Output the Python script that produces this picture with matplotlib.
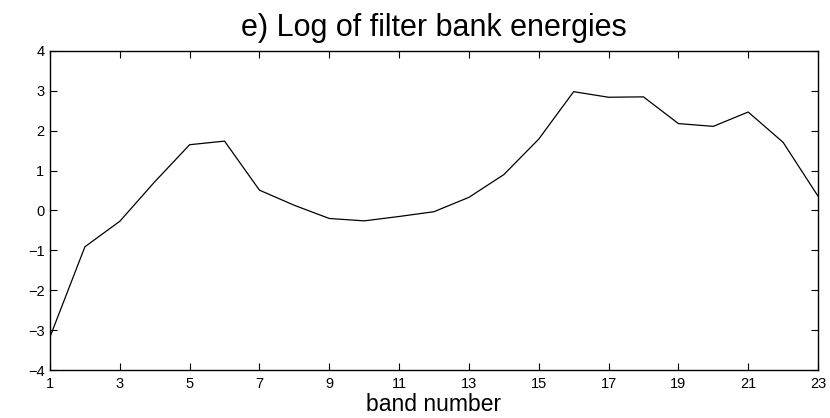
import numpy as np
import matplotlib
matplotlib.use("Agg")
import matplotlib.pyplot as plt

# log filter bank energies per band
bands = list(range(1, 24))
log_energy = [-3.17, -0.91, -0.27, 0.72, 1.65, 1.74, 0.51, 0.13, -0.20, -0.26,
              -0.15, -0.03, 0.33, 0.90, 1.79, 2.98, 2.84, 2.85, 2.18, 2.11,
              2.47, 1.71, 0.36]
xticks = list(range(1, 24, 2))
yticks = list(range(-4, 5))

plt.rcParams['font.family'] = ['Liberation Sans', 'DejaVu Sans']

fig = plt.figure(figsize=(8.3, 4.18), dpi=100)
ax = fig.add_axes([50 / 830, 1 - 370 / 418, 768 / 830, 319 / 418])

ax.plot(bands, log_energy, color='black', linewidth=0.9)
ax.set_xlim(1, 23)
ax.set_ylim(-4, 4)
ax.set_xticks(xticks)
ax.set_yticks(yticks)
ax.set_yticklabels(['\u2212' + str(-v) if v < 0 else str(v) for v in yticks])
ax.tick_params(direction='in', length=5, width=0.8, top=True, right=True,
               labelsize=10.5)
ax.tick_params(axis='x', pad=5)
ax.tick_params(axis='y', pad=4)
for s in ax.spines.values():
    s.set_linewidth(1.0)

ax.set_title('e) Log of filter bank energies', fontsize=22, pad=11)
ax.set_xlabel('band number', fontsize=16.5)
ax.xaxis.label.set_verticalalignment('baseline')
ax.xaxis.set_label_coords(0.5, -(411 - 370) / 319)

fig.savefig('out.png', dpi=100)
